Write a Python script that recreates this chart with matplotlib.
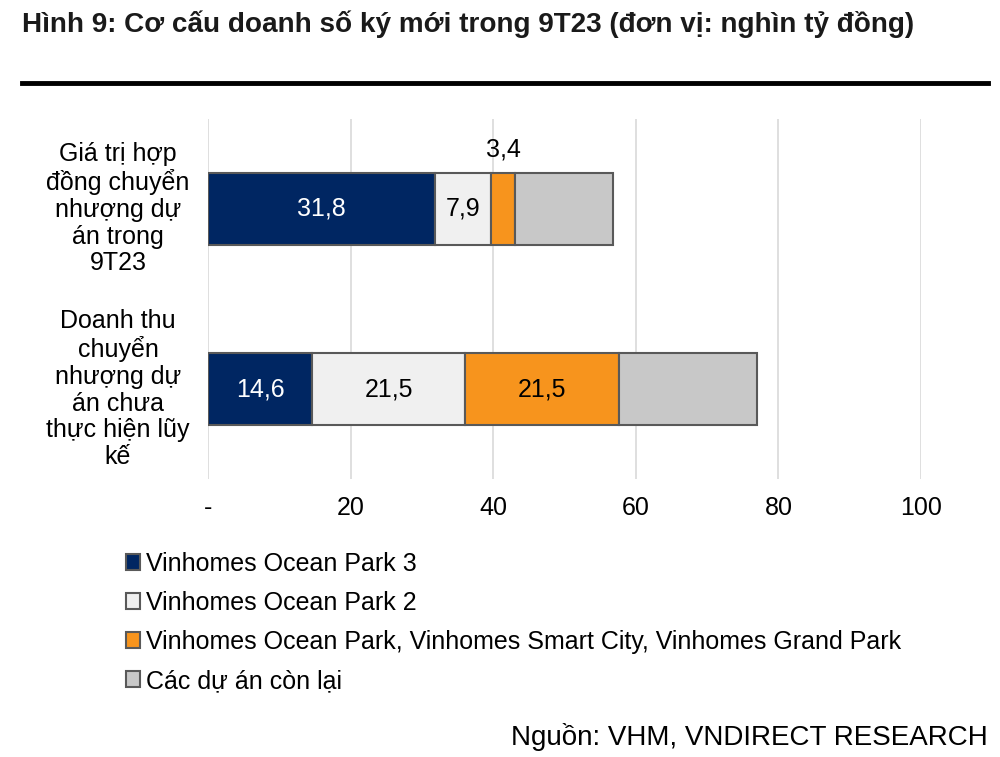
import matplotlib.pyplot as plt
import matplotlib.transforms as mtransforms
from matplotlib.patches import Patch

plt.rcParams['font.family'] = ['Liberation Sans', 'DejaVu Sans']

danh_muc = ['Giá trị hợp\nđồng chuyển\nnhượng dự\nán trong\n9T23',
            'Doanh thu\nchuyển\nnhượng dự\nán chưa\nthực hiện lũy\nkế']
ten_nhom = ['Vinhomes Ocean Park 3',
            'Vinhomes Ocean Park 2',
            'Vinhomes Ocean Park, Vinhomes Smart City, Vinhomes Grand Park',
            'Các dự án còn lại']
vop3 = [31.8, 14.6]
vop2 = [7.9, 21.5]
vop_khac = [3.4, 21.5]
con_lai = [13.7, 19.4]
nhan = [['31,8', '14,6'], ['7,9', '21,5'], ['3,4', '21,5'], ['', '']]

mau = ['#002662', '#F0F0F0', '#F7941D', '#C8C8C8']
mau_chu = ['white', 'black', 'black', 'black']

fig = plt.figure(figsize=(10, 7.57), dpi=100)
ax = fig.add_axes([0.208, 0.367, 0.713, 0.476])

chuoi = [vop3, vop2, vop_khac, con_lai]
vi_tri = [0, 1]
trai = [0, 0]
for i, gia_tri in enumerate(chuoi):
    bars = ax.barh(vi_tri, gia_tri, left=trai, height=0.4, color=mau[i],
                   edgecolor='#595959', linewidth=1.5, zorder=3)
    for j, b in enumerate(bars):
        txt = nhan[i][j]
        if not txt:
            continue
        cx = b.get_x() + b.get_width() / 2
        if gia_tri[j] < 5:
            ax.text(cx, vi_tri[j] - 0.33, txt, ha='center', va='center',
                    fontsize=18, color='black')
        else:
            ax.text(cx, vi_tri[j], txt, ha='center', va='center',
                    fontsize=18, color=mau_chu[i], zorder=4)
    trai = [a + b for a, b in zip(trai, gia_tri)]

ax.set_xlim(0, 100)
ax.set_ylim(1.5, -0.5)
ax.set_xticks([0, 20, 40, 60, 80, 100])
ax.set_xticklabels(['-', '20', '40', '60', '80', '100'], fontsize=18)
ax.tick_params(axis='x', length=0, pad=12)
ax.set_yticks([])
for s in ax.spines.values():
    s.set_visible(False)
ax.grid(axis='x', color='#D9D9D9', linewidth=1.2, zorder=0)

tr = mtransforms.blended_transform_factory(fig.transFigure, ax.transData)
for y, lbl in zip(vi_tri, danh_muc):
    ax.text(0.118, y, lbl, transform=tr, ha='center', va='center',
            fontsize=18, linespacing=1.14)

# tieu de va duong ke
fig.text(0.022, 0.968, 'Hình 9: Cơ cấu doanh số ký mới trong 9T23 (đơn vị: nghìn tỷ đồng)',
         fontsize=20.1, fontweight='bold', ha='left', va='center', color='#1a1a1a')
fig.add_artist(plt.Line2D([0.022, 0.988], [0.891, 0.891], color='black',
                          linewidth=3.5, transform=fig.transFigure))

handles = [Patch(facecolor=mau[i], edgecolor='#595959', linewidth=1.5)
           for i in range(4)]
fig.legend(handles, ten_nhom, loc='upper left', bbox_to_anchor=(0.126, 0.271),
           frameon=False, fontsize=18, handlelength=0.55, handleheight=0.55,
           handletextpad=0.25, labelspacing=0.6, borderpad=0, borderaxespad=0)

fig.text(0.988, 0.027, 'Nguồn: VHM, VNDIRECT RESEARCH', fontsize=20,
         ha='right', va='center')

fig.savefig('out.png', dpi=100)
